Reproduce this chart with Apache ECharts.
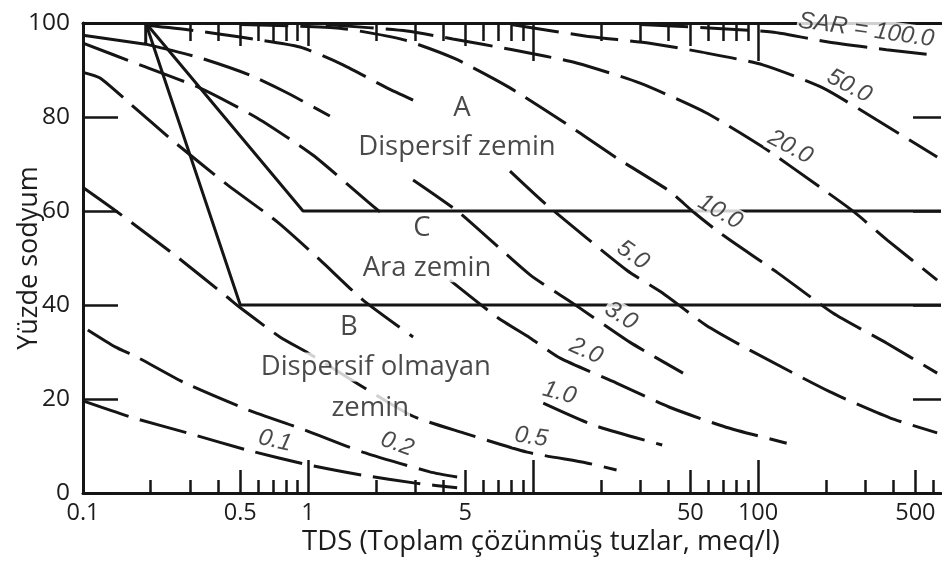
<!DOCTYPE html>
<html>
<head>
<meta charset="utf-8">
<script src="https://cdn.jsdelivr.net/npm/echarts@6.0.0/dist/echarts.min.js"></script>
<style>
html,body{margin:0;padding:0;background:#fff;}
#chart{width:942px;height:562px;}
</style>
</head>
<body>
<div id="chart"></div>
<script>
// ---------------- data ----------------
const xTickLabels = [0.1, 0.5, 1, 5, 50, 100, 500];
const bottomMajorTicks = [1, 10, 100];
const bottomMidTicks = [0.5, 5, 50, 500];
const bottomMinorTicks = [0.2, 0.3, 0.4, 0.6, 0.7, 0.8, 0.9, 2, 3, 4, 6, 7, 8, 9, 20, 30, 40, 60, 70, 80, 90, 200, 300, 400, 600];
const topMajorTicks = [10, 100];
const topMidTicks = [0.5, 1, 5, 50];
const topMinorTicks = [0.3, 0.4, 0.6, 0.7, 0.8, 0.9, 2, 3, 4, 6, 7, 8, 9, 20, 30, 40, 60, 70, 80, 90];

// SAR curves: [TDS (meq/l), % sodium]; each curve is a list of visible segments
const sar01 = [[[0.1, 19.6], [0.167, 16.0], [0.29, 12.8], [0.54, 9.1], [1.0, 6.0], [1.74, 3.8], [3.0, 2.1], [4.6, 1.1]]];
const sar02 = [[[0.105, 34.7], [0.139, 31.1], [0.174, 28.9], [0.284, 23.4], [0.54, 17.7], [0.97, 13.4], [1.75, 8.7], [3.48, 4.5], [4.6, 3.4]]];
const sar05 = [[[0.1, 65.0], [0.142, 59.8], [0.256, 50.6], [0.437, 41.7], [0.5, 39.4], [0.75, 33.2], [1.0, 29.8], [2.85, 16.6], [4.9, 12.8], [9.4, 8.7], [17.3, 6.4], [23.5, 4.9]]];
const sar1 = [
  [[0.1, 89.5], [0.119, 88.3], [0.165, 82.5], [0.25, 75.0], [0.44, 65.5], [0.73, 57.7], [1.13, 49.6], [1.75, 41.1], [2.93, 33.2]],
  [[11.1, 19.1], [18.4, 14.5], [37.5, 10.2]]
];
const sar2 = [
  [[0.1, 95.7], [0.179, 91.1], [0.33, 86.2], [0.594, 79.8], [1.05, 71.9], [1.83, 62.1], [2.09, 59.8]],
  [[4.27, 45.3], [6.92, 37.4], [9.7, 33.0], [13.2, 28.7], [23.5, 23.4], [40.2, 18.3], [72, 14.0], [134, 10.6]]
];
const sar3 = [
  [[0.19, 95.5], [0.33, 92.6], [0.552, 88.9], [0.81, 85.1], [1.25, 80.2]],
  [[2.93, 66.6], [4.72, 59.6], [9.7, 46.4], [15, 40.4], [26.9, 32.1], [46.4, 25.5]]
];
const sar5 = [
  [[0.19, 99.5], [0.3, 98.5], [0.5, 97.0], [0.92, 94.9], [1.43, 91.1], [2.24, 86.2], [2.93, 83.6]],
  [[7.9, 68.5], [11.5, 61.3], [26.1, 47.4], [37.5, 42.6], [58.7, 35.7], [91.9, 30.4], [209, 21.5], [385, 16.0], [625, 12.8]]
];
const sar10 = [[[0.5, 99.7], [1.38, 98.9], [2.67, 96.4], [4.5, 92.4], [7.9, 86.2], [13.5, 79.1], [23.5, 71.3], [40.2, 64.3], [51.3, 59.9], [67.8, 55.3], [121, 47.0], [215, 38.3], [372, 31.9], [625, 25.5]]];
const sar20 = [[[1.2, 99.7], [2.75, 98.3], [4.4, 96.6], [8.1, 94.3], [15.6, 91.5], [29.9, 87.2], [58.7, 80.9], [105, 73.6], [188, 65.1], [267, 59.8], [375, 53.8], [625, 45.3]]];
const sar50 = [[[8, 99.7], [17.3, 97.2], [33, 95.7], [56.2, 93.8], [105, 91.1], [194, 86.2], [336, 79.4], [625, 71.5]]];
const sar100 = [[[30, 99.7], [115, 98.1], [202, 96.0], [372, 94.3], [600, 93.2]]];

// solid boundary lines
const boundaryB = [[0.19, 100], [0.5, 40], [650, 40]];
const boundaryC = [[0.19, 100], [0.95, 60], [650, 60]];
const leadSegment = [[0.1, 97.4], [0.19, 95.5], [0.19, 100]];

// texts
const sarLabels = ['SAR = 100.0', '50.0', '20.0', '10.0', '5.0', '3.0', '2.0', '1.0', '0.5', '0.2', '0.1'];
const regionLabels = ['A', 'Dispersif zemin', 'C', 'Ara zemin', 'B', 'Dispersif olmayan', 'zemin'];

// ---------------- layout / style ----------------
const sarLabelAt = [[302, 98.5], [254, 86.6], [139, 73.6], [67.8, 59.8], [27.8, 50.6], [24.6, 37.7], [17.2, 30.2], [13.1, 21.3], [9.8, 11.9], [2.49, 10.4], [0.713, 11.1]];
const sarLabelRot = [-8, -28, -28, -30, -35, -32, -24, -15, -8, -20, -13];
const regionAt = [[4.83, 81.9], [4.59, 73.6], [3.21, 56.4], [3.38, 47.9], [1.52, 35.3], [2.0, 26.8], [1.89, 18.1]];

const FONT = "'Open Sans', sans-serif";
const INK = '#151515';
const TXT = '#1c1c1c';
const XMIN = 0.1, XMAX = 650;

function mkX(pos, ticks, len, extra) {
  return Object.assign({
    type: 'log', logBase: 10, min: XMIN, max: XMAX, position: pos, gridIndex: 0,
    axisLine: { show: false, onZero: false },
    axisTick: { show: true, inside: true, length: len, customValues: ticks, lineStyle: { color: INK, width: 2.5 } },
    axisLabel: { show: false },
    splitLine: { show: false }, minorTick: { show: false }, minorSplitLine: { show: false }
  }, extra || {});
}

function mkLine(data, dashed) {
  return {
    type: 'line', data: data, xAxisIndex: 0, yAxisIndex: 0,
    showSymbol: false, symbol: 'none', silent: true, animation: false,
    smooth: dashed ? 0.2 : false,
    lineStyle: { color: INK, width: 3, type: dashed ? [48, 12] : 'solid', cap: 'butt' },
    z: 3
  };
}

const series = [];
[sar01, sar02, sar05, sar1, sar2, sar3, sar5, sar10, sar20, sar50, sar100].forEach(c => c.forEach(seg => series.push(mkLine(seg, true))));
[boundaryB, boundaryC, leadSegment].forEach(b => series.push(mkLine(b, false)));

series.push({
  type: 'scatter', symbolSize: 0, silent: true, z: 10, xAxisIndex: 0, yAxisIndex: 0,
  data: sarLabels.map((t, i) => ({
    value: sarLabelAt[i],
    label: { formatter: t, rotate: sarLabelRot[i] }
  })),
  label: {
    show: true, position: 'inside', align: 'center', verticalAlign: 'middle',
    fontFamily: "'Liberation Sans', Arial, sans-serif", fontStyle: 'italic', fontSize: 24, lineHeight: 24,
    color: TXT, backgroundColor: '#fff', padding: [0, 1]
  }
});
series.push({
  type: 'scatter', symbolSize: 0, silent: true, z: 9, xAxisIndex: 0, yAxisIndex: 0,
  data: regionLabels.map((t, i) => ({ value: regionAt[i], label: { formatter: t } })),
  label: {
    show: true, position: 'inside', align: 'center', verticalAlign: 'middle',
    fontFamily: FONT, fontSize: 27.5, lineHeight: 29, color: TXT, backgroundColor: '#fff', padding: [0, 1]
  }
});

const option = {
  animation: false,
  backgroundColor: '#fff',
  textStyle: { fontFamily: FONT },
  grid: { left: 83, right: 1, top: 23, bottom: 69, containLabel: false, outerBoundsMode: 'none' },
  xAxis: [
    mkX('bottom', bottomMajorTicks, 33, {
      axisLine: { show: true, onZero: false, lineStyle: { color: INK, width: 3 } },
      axisLabel: {
        show: true, customValues: xTickLabels, fontSize: 23.5, margin: 8, color: TXT, fontFamily: FONT,
        formatter: v => String(+Number(v).toPrecision(3))
      },
      name: 'TDS (Toplam çözünmüş tuzlar, meq/l)', nameLocation: 'middle', nameGap: 35, nameMoveOverlap: false,
      nameTextStyle: { fontSize: 27.5, color: TXT, fontFamily: FONT, padding: [0, 0, 0, 58] }
    }),
    mkX('bottom', bottomMidTicks, 23),
    mkX('bottom', bottomMinorTicks, 13),
    mkX('top', topMinorTicks, 18, { axisLine: { show: true, onZero: false, lineStyle: { color: INK, width: 3 } } }),
    mkX('top', topMidTicks, 23),
    mkX('top', topMajorTicks, 38)
  ],
  yAxis: [
    {
      type: 'value', min: 0, max: 100, interval: 20, position: 'left',
      axisLine: { show: true, onZero: false, lineStyle: { color: INK, width: 3 } },
      axisTick: { show: true, inside: true, length: 35, lineStyle: { color: INK, width: 2.5 } },
      axisLabel: { fontSize: 24.5, margin: 13, color: TXT, fontFamily: FONT },
      splitLine: { show: false },
      name: 'Yüzde sodyum', nameLocation: 'middle', nameGap: 40, nameRotate: 90, nameMoveOverlap: false,
      nameTextStyle: { fontSize: 27, color: TXT, fontFamily: FONT }
    },
    {
      type: 'value', min: 0, max: 100, interval: 20, position: 'right',
      axisLine: { show: false, onZero: false },
      axisTick: { show: true, inside: true, length: 28, lineStyle: { color: INK, width: 2.5 } },
      axisLabel: { show: false }, splitLine: { show: false }
    }
  ],
  series: series
};

const chart = echarts.init(document.getElementById('chart'), null, { renderer: 'canvas' });
chart.setOption(option);
</script>
</body>
</html>
